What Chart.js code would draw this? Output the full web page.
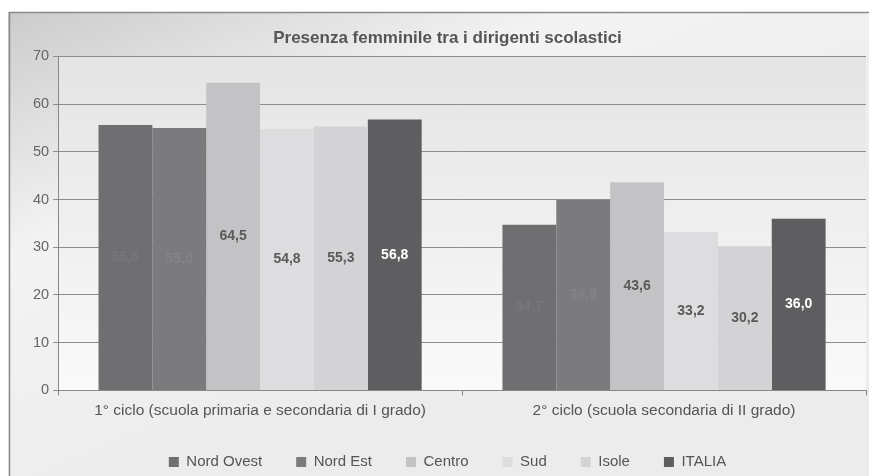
<!DOCTYPE html>
<html>
<head>
<meta charset="utf-8">
<script src="https://cdn.jsdelivr.net/npm/chart.js@4"></script>
<style>
  html, body { margin: 0; padding: 0; background: #fff; }
  #wrap { width: 869px; height: 476px; }
</style>
</head>
<body>
<div id="wrap"><canvas id="myBarChart" width="869" height="476"></canvas></div>
<script>
const categories = [
  "1° ciclo (scuola primaria e secondaria di I grado)",
  "2° ciclo (scuola secondaria di II grado)"
];
const regions = ["Nord Ovest", "Nord Est", "Centro", "Sud", "Isole", "ITALIA"];
const nordOvest = [55.6, 34.7];
const nordEst = [55.0, 39.9];
const centro = [64.5, 43.6];
const sud = [54.8, 33.2];
const isole = [55.3, 30.2];
const italia = [56.8, 36.0];
const yTicks = [0, 10, 20, 30, 40, 50, 60, 70];

const seriesValues = [nordOvest, nordEst, centro, sud, isole, italia];
const barColors = ["#6f6f72", "#7b7b7e", "#c3c3c5", "#dddddf", "#d3d3d5", "#5e5e61"];
const labelColors = ["#77777a", "#848487", "#5a5a5c", "#5a5a5c", "#5a5a5c", "#ffffff"];

Chart.defaults.font.family = "'Liberation Sans', Arial, sans-serif";
Chart.defaults.color = "#666";

// background frame with gray gradient
const backgroundFrame = {
  id: "backgroundFrame",
  beforeDraw(chart) {
    const ctx = chart.ctx;
    ctx.save();
    const g = ctx.createLinearGradient(0, 12, 200, 476);
    g.addColorStop(0, "#cbcbcb");
    g.addColorStop(0.45, "#f3f3f3");
    g.addColorStop(1, "#ececec");
    ctx.fillStyle = g;
    ctx.fillRect(8, 12, 861, 464);
    ctx.strokeStyle = "#8a8a8a";
    ctx.lineWidth = 1.5;
    ctx.strokeRect(9.5, 12.5, 870, 470);
    const a = chart.chartArea;
    const g2 = ctx.createLinearGradient(0, a.top, 0, a.bottom);
    g2.addColorStop(0, "#e4e4e4");
    g2.addColorStop(1, "#fafafa");
    ctx.fillStyle = g2;
    ctx.fillRect(a.left, a.top, a.right - a.left, a.bottom - a.top);
    ctx.restore();
  }
};

// the legend keeps wide gaps between items but takes less height
const tightLegend = {
  id: "tightLegend",
  afterInit(chart) {
    const lg = chart.legend;
    const fit = lg.fit;
    lg.fit = function () {
      fit.call(this);
      this.height = 50;
    };
    const draw = lg.draw;
    lg.draw = function () {
      this.ctx.save();
      this.ctx.translate(0, -5.5);
      draw.call(this);
      this.ctx.restore();
    };
  }
};

// value labels inside bars, Italian decimal comma
const valueLabels = {
  id: "valueLabels",
  afterDatasetsDraw(chart) {
    const ctx = chart.ctx;
    ctx.save();
    ctx.font = "bold 14px 'Liberation Sans', Arial, sans-serif";
    ctx.textAlign = "center";
    ctx.textBaseline = "middle";
    chart.data.datasets.forEach((ds, i) => {
      chart.getDatasetMeta(i).data.forEach((bar, j) => {
        const y = (bar.y + bar.base) / 2;
        ctx.fillStyle = labelColors[i];
        ctx.fillText(ds.data[j].toFixed(1).replace(".", ","), bar.x, y);
      });
    });
    ctx.restore();
  }
};

new Chart("myBarChart", {
  type: "bar",
  data: {
    labels: categories,
    datasets: regions.map((r, i) => ({
      label: r,
      data: seriesValues[i],
      backgroundColor: barColors[i],
      borderWidth: 0,
      barPercentage: 1,
      categoryPercentage: 0.8
    }))
  },
  options: {
    responsive: false,
    animation: false,
    layout: { padding: { left: 29, right: 3, top: 10, bottom: 0 } },
    plugins: {
      title: {
        display: true,
        text: "Presenza femminile tra i dirigenti scolastici",
        color: "#555",
        font: { size: 17, weight: "bold" },
        padding: { top: 18, bottom: 8 }
      },
      legend: {
        position: "bottom",
        labels: {
          boxWidth: 10,
          boxHeight: 10,
          padding: 34,
          color: "#555",
          font: { size: 15 }
        }
      },
      tooltip: { enabled: false }
    },
    scales: {
      x: {
        grid: { display: true, drawOnChartArea: false, color: "#888", tickLength: 5, offset: true },
        border: { color: "#888" },
        ticks: { color: "#555", font: { size: 15.5 }, padding: 6 }
      },
      y: {
        min: 0,
        max: 70,
        afterBuildTicks(scale) {
          scale.ticks = yTicks.map(v => ({ value: v }));
        },
        grid: { color: "#8c8c8c", tickLength: 5 },
        border: { color: "#888" },
        ticks: { color: "#666", font: { size: 14.5 }, padding: 4 }
      }
    }
  },
  plugins: [backgroundFrame, tightLegend, valueLabels]
});
</script>
</body>
</html>
